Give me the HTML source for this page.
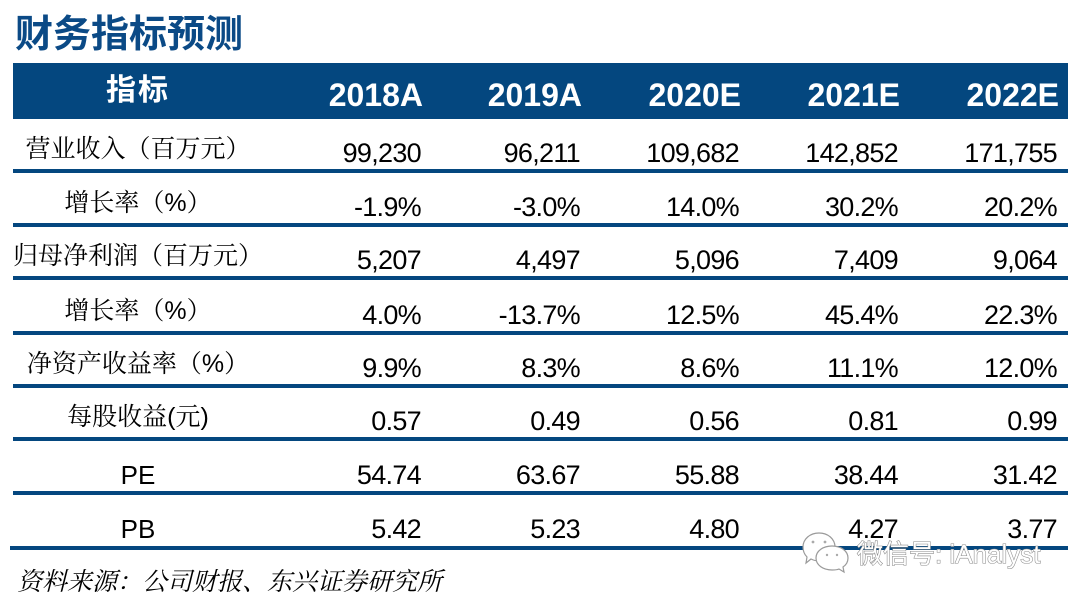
<!DOCTYPE html>
<html>
<head>
<meta charset="utf-8">
<style>
  html, body { margin:0; padding:0; }
  body { width:1078px; height:604px; background:#fff; position:relative; overflow:hidden; }
  .abs { position:absolute; white-space:nowrap; }
  .title { left:15px; top:12px; font-family:"Noto Sans CJK SC", sans-serif; font-weight:700; font-size:38px; line-height:38px; color:#0b4a86; letter-spacing:0px; }
  .hbar { left:13px; top:63px; width:1055px; height:56px; background:#04477f; }
  .hcn { left:13px; width:250px; text-align:center; top:72px; font-family:"Noto Sans CJK SC", sans-serif; font-weight:700; font-size:30px; line-height:30px; color:#fff; letter-spacing:2px; }
  .hy { top:67px; width:150px; text-align:right; font-family:"Liberation Sans", Arial, sans-serif; font-weight:700; font-size:32px; line-height:56px; color:#fff; }
  .line { left:13px; width:1055px; height:4px; background:#04477f; }
  .lab { left:13px; width:250px; text-align:center; font-family:"Liberation Sans", "Noto Serif CJK SC", serif; font-size:25px; line-height:40px; color:#000; }
  .val { width:150px; text-align:right; font-family:"Liberation Sans", Arial, sans-serif; font-size:27px; letter-spacing:-0.7px; line-height:40px; color:#000; }
  .src { left:17px; top:568px; font-family:"Noto Serif CJK SC", serif; font-style:italic; font-size:25px; line-height:25px; color:#000; }
</style>
</head>
<body>
<div class="abs title">财务指标预测</div>

<div class="abs hbar"></div>
<div class="abs hcn">指标</div>
<div class="abs hy" style="left:273px;">2018A</div>
<div class="abs hy" style="left:432px;">2019A</div>
<div class="abs hy" style="left:591px;">2020E</div>
<div class="abs hy" style="left:750px;">2021E</div>
<div class="abs hy" style="left:909px;">2022E</div>

<!-- Row 1 -->
<div class="abs lab" style="top:129px;">营业收入（百万元）</div>
<div class="abs val" style="left:271px;top:133px;">99,230</div>
<div class="abs val" style="left:430px;top:133px;">96,211</div>
<div class="abs val" style="left:589px;top:133px;">109,682</div>
<div class="abs val" style="left:748px;top:133px;">142,852</div>
<div class="abs val" style="left:907px;top:133px;">171,755</div>
<div class="abs line" style="top:169px;"></div>

<!-- Row 2 -->
<div class="abs lab" style="top:183px;">增长率（%）</div>
<div class="abs val" style="left:271px;top:187px;">-1.9%</div>
<div class="abs val" style="left:430px;top:187px;">-3.0%</div>
<div class="abs val" style="left:589px;top:187px;">14.0%</div>
<div class="abs val" style="left:748px;top:187px;">30.2%</div>
<div class="abs val" style="left:907px;top:187px;">20.2%</div>
<div class="abs line" style="top:223px;"></div>

<!-- Row 3 -->
<div class="abs lab" style="top:236px;">归母净利润（百万元）</div>
<div class="abs val" style="left:271px;top:240px;">5,207</div>
<div class="abs val" style="left:430px;top:240px;">4,497</div>
<div class="abs val" style="left:589px;top:240px;">5,096</div>
<div class="abs val" style="left:748px;top:240px;">7,409</div>
<div class="abs val" style="left:907px;top:240px;">9,064</div>
<div class="abs line" style="top:276px;"></div>

<!-- Row 4 -->
<div class="abs lab" style="top:291px;">增长率（%）</div>
<div class="abs val" style="left:271px;top:295px;">4.0%</div>
<div class="abs val" style="left:430px;top:295px;">-13.7%</div>
<div class="abs val" style="left:589px;top:295px;">12.5%</div>
<div class="abs val" style="left:748px;top:295px;">45.4%</div>
<div class="abs val" style="left:907px;top:295px;">22.3%</div>
<div class="abs line" style="top:331px;"></div>

<!-- Row 5 -->
<div class="abs lab" style="top:344px;">净资产收益率（%）</div>
<div class="abs val" style="left:271px;top:348px;">9.9%</div>
<div class="abs val" style="left:430px;top:348px;">8.3%</div>
<div class="abs val" style="left:589px;top:348px;">8.6%</div>
<div class="abs val" style="left:748px;top:348px;">11.1%</div>
<div class="abs val" style="left:907px;top:348px;">12.0%</div>
<div class="abs line" style="top:384px;"></div>

<!-- Row 6 -->
<div class="abs lab" style="top:397px;">每股收益(元)</div>
<div class="abs val" style="left:271px;top:401px;">0.57</div>
<div class="abs val" style="left:430px;top:401px;">0.49</div>
<div class="abs val" style="left:589px;top:401px;">0.56</div>
<div class="abs val" style="left:748px;top:401px;">0.81</div>
<div class="abs val" style="left:907px;top:401px;">0.99</div>
<div class="abs line" style="top:437px;"></div>

<!-- Row 7 -->
<div class="abs lab" style="top:455px;font-size:26px;">PE</div>
<div class="abs val" style="left:271px;top:455px;">54.74</div>
<div class="abs val" style="left:430px;top:455px;">63.67</div>
<div class="abs val" style="left:589px;top:455px;">55.88</div>
<div class="abs val" style="left:748px;top:455px;">38.44</div>
<div class="abs val" style="left:907px;top:455px;">31.42</div>
<div class="abs line" style="top:491px;"></div>

<!-- Row 8 -->
<div class="abs lab" style="top:509px;font-size:26px;">PB</div>
<div class="abs val" style="left:271px;top:509px;">5.42</div>
<div class="abs val" style="left:430px;top:509px;">5.23</div>
<div class="abs val" style="left:589px;top:509px;">4.80</div>
<div class="abs val" style="left:748px;top:509px;">4.27</div>
<div class="abs val" style="left:907px;top:509px;">3.77</div>
<div class="abs line" style="top:546px;left:10px;width:1058px;"></div>

<!-- Watermark -->
<svg class="abs" style="left:0;top:0;" width="1078" height="604" viewBox="0 0 1078 604">
  <g fill="#fff" stroke="#9a9a9a" stroke-width="1.2">
    <path d="M819,533 C828,533 835,539 835,547 C835,555 828,561 819,561 C816,561 813,560 811,559 L806,563 L807,557 C804,554 803,551 803,547 C803,539 810,533 819,533 Z"/>
    <path d="M832,546 C841,546 848,551 848,558 C848,562 846,565 843,567 L844,572 L839,569 C837,570 834,570 832,570 C823,570 816,565 816,558 C816,551 823,546 832,546 Z"/>
  </g>
  <g fill="#aaa">
    <circle cx="813" cy="542" r="1.4"/><circle cx="825" cy="542" r="1.4"/>
    <circle cx="827" cy="555" r="1.2"/><circle cx="837" cy="555" r="1.2"/>
  </g>
  <text x="857" y="563" font-family="Liberation Sans, Noto Sans CJK SC, sans-serif" font-size="26" fill="#fff" stroke="#8a8a8a" stroke-width="1.1" paint-order="stroke fill">微信号: iAnalyst</text>
</svg>

<div class="abs src">资料来源：公司财报、东兴证券研究所</div>
</body>
</html>
